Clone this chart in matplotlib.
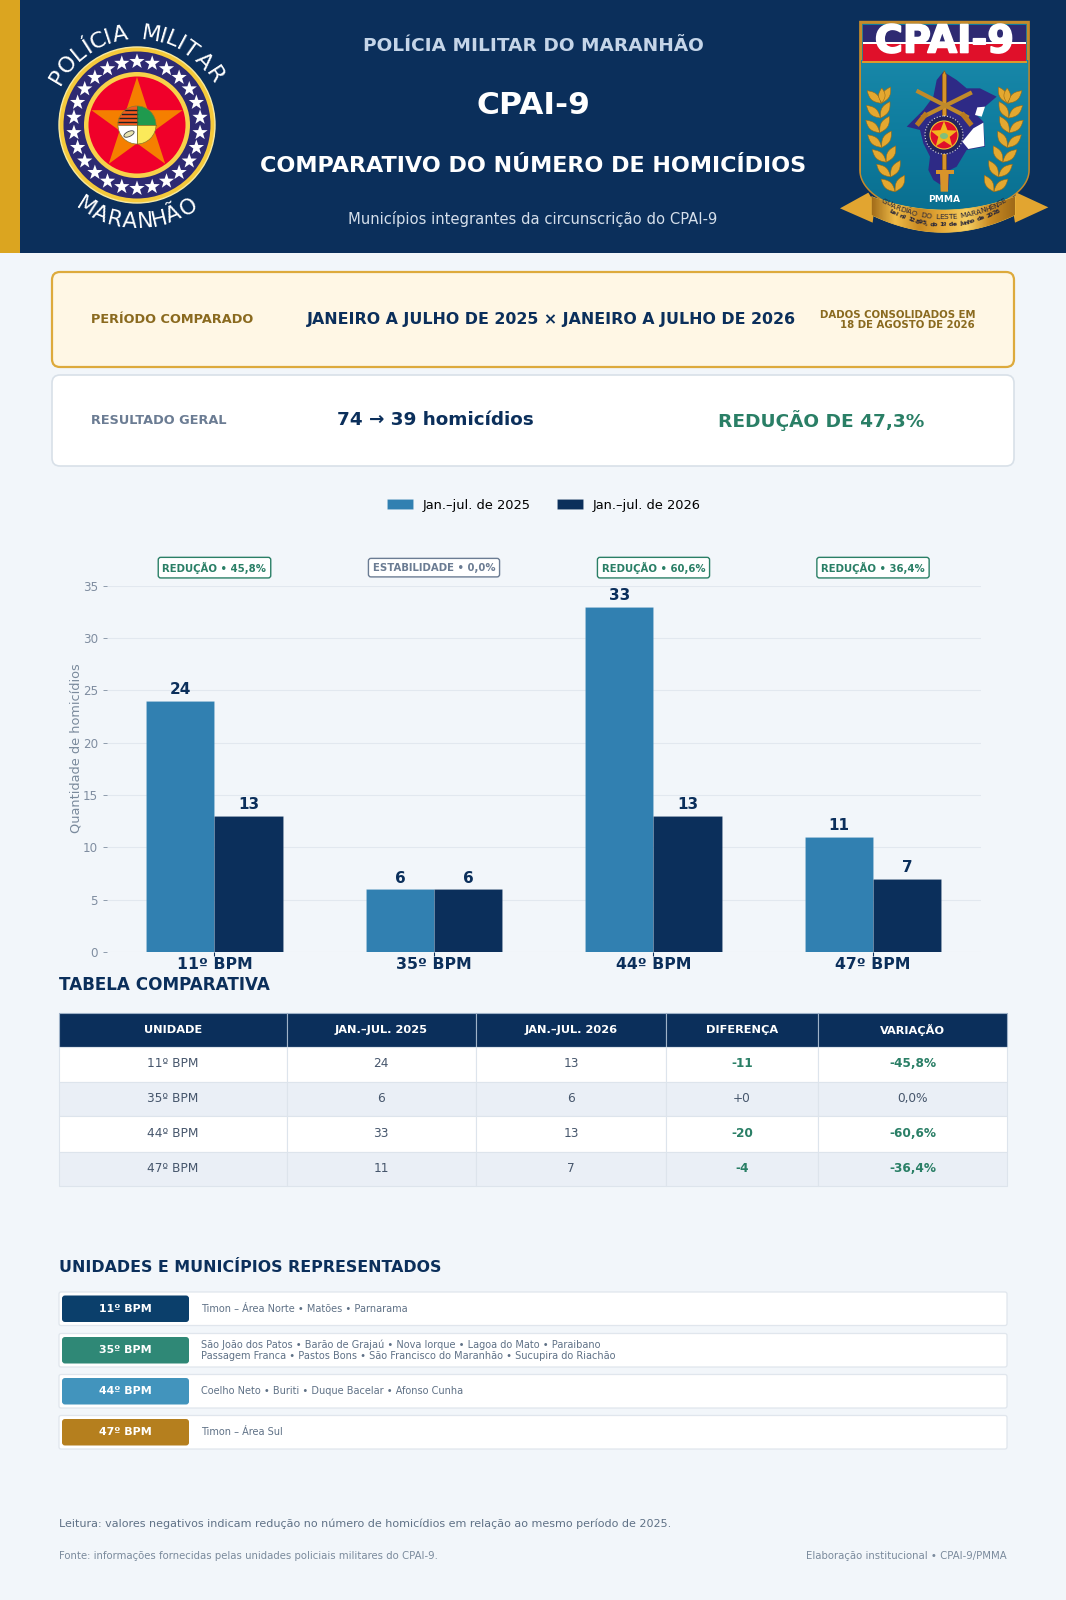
import numpy as np
import matplotlib
matplotlib.use('Agg')
import matplotlib.pyplot as plt
import matplotlib.patheffects as pe
from matplotlib.colors import LinearSegmentedColormap
from matplotlib.patches import Rectangle, FancyBboxPatch, Circle, Polygon, Ellipse, Wedge
from matplotlib.textpath import TextPath
from matplotlib.font_manager import FontProperties

W, H = 1066, 1600
NAVY = '#0B2F5B'
BLUE = '#3180B1'
GREEN = '#2A7F66'
BG = '#F2F6FA'
GOLD = '#DBA520'
SLATE = '#6B7C93'
BODY = '#46566C'

units = ['11º BPM', '35º BPM', '44º BPM', '47º BPM']
values_2025 = [24, 6, 33, 11]
values_2026 = [13, 6, 13, 7]
diffs = ['-11', '+0', '-20', '-4']
variations = ['-45,8%', '0,0%', '-60,6%', '-36,4%']
badges = ['REDUÇÃO • 45,8%', 'ESTABILIDADE • 0,0%', 'REDUÇÃO • 60,6%', 'REDUÇÃO • 36,4%']
table_head = ['UNIDADE', 'JAN.–JUL. 2025', 'JAN.–JUL. 2026', 'DIFERENÇA', 'VARIAÇÃO']
unit_colors = ['#0B3F6B', '#2F8876', '#4294BD', '#B57F1E']
municipalities = [
    'Timon – Área Norte • Matões • Parnarama',
    'São João dos Patos • Barão de Grajaú • Nova Iorque • Lagoa do Mato • Paraibano\n'
    'Passagem Franca • Pastos Bons • São Francisco do Maranhão • Sucupira do Riachão',
    'Coelho Neto • Buriti • Duque Bacelar • Afonso Cunha',
    'Timon – Área Sul',
]

plt.rcParams['font.family'] = 'DejaVu Sans'
fig = plt.figure(figsize=(W / 100, H / 100), dpi=100, facecolor=BG)

# page layer in pixel coordinates, y going down
pg = fig.add_axes([0, 0, 1, 1])
pg.set_xlim(0, W)
pg.set_ylim(H, 0)
pg.axis('off')


def txt(x, y, s, size, color=NAVY, weight='normal', ha='center', **kw):
    return pg.text(x, y, s, fontsize=size, color=color, fontweight=weight,
                   ha=ha, va='center', **kw)


def rbox(x0, y0, x1, y1, fc, ec='none', lw=0, r=8, z=2):
    p = FancyBboxPatch((x0 + r, y0 + r), x1 - x0 - 2 * r, y1 - y0 - 2 * r,
                       boxstyle=f'round,pad={r},rounding_size={r}',
                       fc=fc, ec=ec, lw=lw, zorder=z)
    pg.add_patch(p)


def arc_text(s, cx, cy, rad, a0, a1, size, color, weight='bold', bottom=False, z=6):
    # letter by letter on a baseline circle, a0 and a1 are the centres of the end letters
    fp = FontProperties(family='DejaVu Sans', weight=weight)
    w = [TextPath((0, 0), c if c != ' ' else 'n', size=size, prop=fp).get_extents().width + size * 0.16
         for c in s]
    pos = np.cumsum([0] + [(w[i] + w[i + 1]) / 2 for i in range(len(s) - 1)])
    for c, p in zip(s, pos / pos[-1]):
        a = a0 + (a1 - a0) * p
        x = cx + rad * np.cos(np.radians(a))
        y = cy - rad * np.sin(np.radians(a))
        rot = a + 90 if bottom else a - 90
        pg.text(x, y, c, fontsize=size, color=color, fontweight=weight, ha='center',
                va='baseline', rotation=rot, rotation_mode='anchor', zorder=z)


def star_points(cx, cy, R, r, n=5):
    ang = np.pi / 2 + np.arange(2 * n) * np.pi / n
    rr = np.where(np.arange(2 * n) % 2 == 0, R, r)
    return np.c_[cx + rr * np.cos(ang), cy - rr * np.sin(ang)]


def leaf(px, py, theta, L, wd, z=3.5):
    # lens shape from the stem outwards, theta in degrees from vertical
    s = np.linspace(0, 1, 12)
    th = np.radians(theta)
    ux, uy = np.sin(th), -np.cos(th)
    nx, ny = -uy, ux
    half = wd / 2 * np.sin(s * np.pi)
    a = np.c_[px + ux * L * s + nx * half, py + uy * L * s + ny * half]
    b = np.c_[px + ux * L * s - nx * half, py + uy * L * s - ny * half]
    pg.add_patch(Polygon(np.r_[a, b[::-1]], fc='#E3A830', ec='#9A6A14', lw=0.4, zorder=z))


# header
pg.add_patch(Rectangle((0, 0), W, 253, fc=NAVY, ec='none', zorder=1))
pg.add_patch(Rectangle((0, 0), 20, 253, fc=GOLD, ec='none', zorder=1.5))
txt(533, 46, 'POLÍCIA MILITAR DO MARANHÃO', 13.3, '#C5D5E8', 'bold')
txt(533, 106, 'CPAI-9', 22.6, 'white', 'bold')
txt(533, 166, 'COMPARATIVO DO NÚMERO DE HOMICÍDIOS', 16, 'white', 'bold')
txt(533, 219, 'Municípios integrantes da circunscrição do CPAI-9', 10.6, '#D5DFEB')

# left emblem
cx, cy = 137, 125
pg.add_patch(Circle((cx, cy), 78, fc='#F5C93A', ec='#F8E9A0', lw=1, zorder=3))
pg.add_patch(Circle((cx, cy), 73.5, fc='#2E2A72', ec='none', zorder=3.1))
star_ang = np.arange(26) * 360 / 26 + 90
for a in star_ang:
    sx = cx + 63.5 * np.cos(np.radians(a))
    sy = cy - 63.5 * np.sin(np.radians(a))
    pg.add_patch(Polygon(star_points(sx, sy, 8, 3.2), fc='white', ec='none', zorder=3.2))
pg.add_patch(Circle((cx, cy), 53, fc='#F7D24A', ec='none', zorder=3.3))
pg.add_patch(Circle((cx, cy), 48.5, fc='#F0002A', ec='none', zorder=3.4))
pg.add_patch(Polygon(star_points(cx, cy, 48, 18.3), fc='#F57F00', ec='none', zorder=3.5))
# y axis is flipped here, so wedge angles run clockwise on screen
pg.add_patch(Wedge((cx, cy), 19, 180, 270, fc='#F25A1E', ec='none', zorder=4))
pg.add_patch(Wedge((cx, cy), 19, 270, 360, fc='#1F9A4E', ec='none', zorder=4))
pg.add_patch(Wedge((cx, cy), 19, 90, 180, fc='white', ec='none', zorder=4))
pg.add_patch(Wedge((cx, cy), 19, 0, 90, fc='#FBEA5A', ec='none', zorder=4))
for sy in [cy - 3, cy - 7, cy - 11, cy - 15]:
    half = np.sqrt(19 ** 2 - (cy - sy) ** 2)
    pg.plot([cx - half, cx], [sy, sy], color='#222222', lw=1, zorder=4.1)
pg.plot([cx - 19, cx + 19], [cy, cy], color='#6B5B1E', lw=0.5, zorder=4.2)
pg.plot([cx, cx], [cy - 19, cy + 19], color='#6B5B1E', lw=0.5, zorder=4.2)
pg.add_patch(Circle((cx, cy), 19, fc='none', ec='#8A7A30', lw=0.5, zorder=4.3))
pg.add_patch(Ellipse((cx - 8, cy + 9), 11, 5, angle=-25, fc='#E7E3B0', ec='#444444', lw=0.6, zorder=4.4))
arc_text('POLÍCIA MILITAR', cx, cy, 86, 149, 33, 16, 'white', 'normal')
arc_text('MARANHÃO', cx, cy, 103, 238, 302, 15.5, 'white', 'normal', bottom=True)


def zp(pts):
    a = np.array(pts, dtype=float)
    return np.c_[800 + a[:, 0] / 3, a[:, 1] / 3]


t = np.linspace(0, 1, 30)
q = t * np.pi / 2
shield = np.r_[[[182, 67], [685, 67]],
               np.c_[430 + 255 * np.cos(q), 510 + 130 * np.sin(q)],
               np.c_[430 - 248 * np.sin(q[1:]), 510 + 130 * np.cos(q[1:])]]
outline = Polygon(zp(shield), fc='#0E7C9E', ec='#C68A2A', lw=2.2, zorder=3)
pg.add_patch(outline)
grad = np.linspace(0, 1, 200).reshape(-1, 1)
field_cmap = LinearSegmentedColormap.from_list('field', ['#1887A8', '#0E7C9E', '#0A6F90'])
im = pg.imshow(grad, extent=(861, 1029, 213, 60), cmap=field_cmap, aspect='auto', zorder=3.1)
im.set_clip_path(outline)
pg.add_patch(Rectangle(zp([[189, 74]])[0], 489 / 3, 54 / 3, fc='#2E2A72', ec='none', zorder=3.2))
pg.add_patch(Rectangle(zp([[189, 126]])[0], 489 / 3, 8 / 3, fc='white', ec='none', zorder=3.2))
pg.add_patch(Rectangle(zp([[189, 133]])[0], 489 / 3, 50 / 3, fc='#E0102A', ec='none', zorder=3.2))
pg.add_patch(Rectangle(zp([[187, 183]])[0], 493 / 3, 6 / 3, fc='#D99A2B', ec='none', zorder=3.3))
txt(944.5, 42.5, 'CPAI-9', 27.6, 'white', 'bold', zorder=3.5,
    path_effects=[pe.withStroke(linewidth=1.2, foreground='white')])

state_map = [(430, 215), (470, 240), (500, 265), (540, 265), (590, 290), (555, 320), (530, 345),
             (550, 365), (555, 440), (500, 450), (470, 500), (450, 510), (445, 570), (400, 540),
             (385, 510), (390, 470), (370, 430), (360, 390), (320, 380), (370, 330), (400, 290),
             (410, 240)]
pg.add_patch(Polygon(zp(state_map), fc='#2E2A86', ec='none', zorder=3.4))
for patch_pts in ([(532, 322), (555, 320), (545, 350), (525, 345)],
                  [(520, 385), (550, 368), (553, 438), (505, 447), (487, 425)]):
    pg.add_patch(Polygon(zp(patch_pts), fc='white', ec='none', zorder=3.45))
pg.add_patch(Polygon(zp([(427, 225), (433, 212), (439, 225), (439, 510), (427, 510)]),
                     fc='#D9942A', ec='#8A5A14', lw=0.5, zorder=3.6))
pg.add_patch(Rectangle(zp([(407, 510)])[0], 18, 4, fc='#D9942A', zorder=3.6))
pg.add_patch(Polygon(zp([(420, 520), (446, 520), (444, 575), (422, 575)]), fc='#D9942A', zorder=3.6))
pg.plot(*zp([(355, 275), (500, 350)]).T, color='#C08A2A', lw=3, zorder=3.6)
pg.plot(*zp([(510, 280), (370, 350)]).T, color='#C08A2A', lw=3, zorder=3.6)
pg.plot(*zp([(375, 345), (355, 370)]).T, color='#B87A20', lw=3.6, zorder=3.6)
pg.plot(*zp([(490, 345), (510, 370)]).T, color='#B87A20', lw=3.6, zorder=3.6)
ex, ey = zp([(432, 405)])[0]
pg.add_patch(Circle((ex, ey), 19, fc='#23235F', ec='#DDDDDD', lw=0.8, ls=':', zorder=3.7))
pg.add_patch(Circle((ex, ey), 14, fc='#E0102A', ec='#F2C230', lw=0.8, zorder=3.8))
pg.add_patch(Polygon(star_points(ex, ey, 14, 6), fc='#F2B61E', ec='none', zorder=3.9))
pg.add_patch(Ellipse((ex, ey + 1), 8, 6, fc='#7FBF7A', ec='none', zorder=4))

# laurel branches, leaf pairs along a stem
stem_y = np.linspace(310, 575, 7)
stem_x = np.interp(stem_y, [265, 420, 575], [245, 238, 285])
for side in (-1, 1):
    for zx_, zy_ in zip(stem_x, stem_y):
        lx = 944.5 + side * (433 - zx_) / 3
        leaf(lx, zy_ / 3, side * 48, 19, 7.5)
        leaf(lx, zy_ / 3, -side * 30, 19, 7.5)
    leaf(944.5 + side * (433 - 245) / 3, 103, 0, 15, 6.5)

# ribbon with a gold gradient clipped to its outline
ribbon_cmap = LinearSegmentedColormap.from_list(
    'ribbon', ['#A06A18', '#F0BC48', '#C98A22', '#E8AC3A', '#F6CF62', '#C98A22', '#A06A18'])
ribbon_grad = np.linspace(0, 1, 300).reshape(1, -1)
xr = np.linspace(215, 645, 40)
u2 = ((xr - 430) / 215) ** 2
top = 590 + 40 * (1 - u2)
low = 645 + 52 * (1 - u2)
for tail in ([(120, 625), (205, 578), (225, 610), (218, 668)],
             [(745, 622), (650, 578), (635, 610), (645, 668)]):
    pg.add_patch(Polygon(zp(tail), fc='#E2A530', ec='none', zorder=4.4))
band = Polygon(zp(np.r_[np.c_[xr, top], np.c_[xr[::-1], low[::-1]]]), fc='#C9871F', ec='#F2C54B',
               lw=0.5, zorder=4.5)
pg.add_patch(band)
rim = pg.imshow(ribbon_grad, extent=(871, 1015, 235, 190), cmap=ribbon_cmap, aspect='auto', zorder=4.6)
rim.set_clip_path(band)
pg.set_xlim(0, W)
pg.set_ylim(H, 0)
txt(944, 200, 'PMMA', 6.6, 'white', 'bold', zorder=5)
arc_text('GUARDIÃO DO LESTE MARANHENSE', 944, 94, 125, 241, 299, 5.4, '#26263A', 'normal', bottom=True)
arc_text('Lei nº 12.895, do 1º de junho de 2026', 944, 115, 111.5, 241, 299, 4.5, '#26263A', 'bold', bottom=True)

# period and result cards
rbox(52, 272, 1014, 367, '#FFF7E5', '#DDAA3C', 1.6)
txt(91, 319.5, 'PERÍODO COMPARADO', 9.3, '#8A6A1F', 'bold', ha='left')
txt(551, 319.5, 'JANEIRO A JULHO DE 2025 × JANEIRO A JULHO DE 2026', 11.4, NAVY, 'bold')
pg.text(975, 320, 'DADOS CONSOLIDADOS EM\n18 DE AGOSTO DE 2026', fontsize=7.3, color='#8A6A1F',
        fontweight='bold', ha='right', va='center', linespacing=1.0)
rbox(52, 375, 1014, 466, 'white', '#D8E0E8', 1.2)
txt(91, 420, 'RESULTADO GERAL', 9.3, SLATE, 'bold', ha='left')
txt(435, 420, '74 → 39 homicídios', 13.2, NAVY, 'bold')
txt(821, 421, 'REDUÇÃO DE 47,3%', 13.3, GREEN, 'bold')

# bar chart
ax = fig.add_axes([107 / W, 1 - 952 / H, (981 - 107) / W, (952 - 585.6) / H])
ax.patch.set_alpha(0)
x = np.arange(len(units))
bw = 0.31
edge = dict(edgecolor=(1, 1, 1, 0.1), linewidth=0.8)
b1 = ax.bar(x - bw / 2, values_2025, bw, color=BLUE, label='Jan.–jul. de 2025', zorder=3, **edge)
b2 = ax.bar(x + bw / 2, values_2026, bw, color=NAVY, label='Jan.–jul. de 2026', zorder=3, **edge)
for bars in (b1, b2):
    for b in bars:
        ax.text(b.get_x() + b.get_width() / 2, b.get_height() + 0.35, str(int(b.get_height())),
                ha='center', va='bottom', fontsize=11, fontweight='bold', color=NAVY)
ax.set_xlim(-0.4897, 3.492)
ax.set_ylim(0, 35)
ax.set_yticks(range(0, 36, 5))
ax.set_xticks(x)
ax.set_xticklabels(units, fontsize=11.3, fontweight='bold', color=NAVY)
ax.tick_params(axis='y', labelsize=8.6, labelcolor='#7F8DA0', color='#7F8DA0', length=3, width=0.6)
ax.tick_params(axis='x', length=3, width=0.8, color=NAVY, pad=0.5)
ax.set_ylabel('Quantidade de homicídios', fontsize=9.3, color='#7A8A9C', labelpad=0, y=0.557)
ax.grid(axis='y', color='#E2E8EF', lw=0.8, zorder=0)
ax.set_axisbelow(True)
for s in ax.spines.values():
    s.set_visible(False)
for i, lab in enumerate(badges):
    col = GREEN if lab.startswith('RED') else SLATE
    ax.text(i, 1.049, lab, transform=ax.get_xaxis_transform(), ha='center', va='center',
            fontsize=7.3, fontweight='bold', color=col, clip_on=False,
            bbox=dict(boxstyle='round,pad=0.42,rounding_size=0.25', fc='white', ec=col, lw=1))
fig.legend(handles=[b1, b2], loc='center', bbox_to_anchor=(544 / W, 1 - 505 / H), ncol=2,
           frameon=False, fontsize=9.4, handlelength=2.0, handleheight=0.7, columnspacing=2.0,
           handletextpad=0.75)

# table
txt(59, 985, 'TABELA COMPARATIVA', 12.1, NAVY, 'bold', ha='left')
edges = [59, 286.5, 476, 666, 818, 1007]
row_y = [1013, 1047, 1081.5, 1116, 1151.5, 1186]
for j, head in enumerate(table_head):
    pg.add_patch(Rectangle((edges[j], row_y[0]), edges[j + 1] - edges[j], row_y[1] - row_y[0],
                           fc=NAVY, ec='#9FB2C8', lw=0.8, zorder=2))
    txt((edges[j] + edges[j + 1]) / 2, 1030, head, 8.2, 'white', 'bold', zorder=3)
for i in range(len(units)):
    cells = [units[i], str(values_2025[i]), str(values_2026[i]), diffs[i], variations[i]]
    fc = 'white' if i % 2 == 0 else '#EAEFF6'
    for j, c in enumerate(cells):
        pg.add_patch(Rectangle((edges[j], row_y[i + 1]), edges[j + 1] - edges[j],
                               row_y[i + 2] - row_y[i + 1], fc=fc, ec='#DDE4EC', lw=0.8, zorder=2))
        good = j >= 3 and c.startswith('-')
        txt((edges[j] + edges[j + 1]) / 2, (row_y[i + 1] + row_y[i + 2]) / 2 - 0.5, c, 8.7,
            GREEN if good else BODY, 'bold' if good else 'normal', zorder=3)

# units and municipalities
txt(59, 1267, 'UNIDADES E MUNICÍPIOS REPRESENTADOS', 11.4, NAVY, 'bold', ha='left')
row_top = [1292, 1333.5, 1374.5, 1415.5]
for i in range(len(units)):
    y0 = row_top[i]
    rbox(59, y0, 1007, y0 + 33.5, 'white', '#E0E6ED', 0.9, r=2)
    rbox(62, y0 + 3.5, 189, y0 + 30, unit_colors[i], 'none', 0, r=3, z=3)
    txt(125.5, y0 + 16.8, units[i], 7.9, 'white', 'bold', zorder=4)
    pg.text(201, y0 + 16.5, municipalities[i], fontsize=7.0, color='#5F7186', ha='left',
            va='center', linespacing=1.1, zorder=4)

# footer
txt(59, 1523.5, 'Leitura: valores negativos indicam redução no número de homicídios em relação ao mesmo período de 2025.',
    8.0, '#5F7186', ha='left')
txt(59, 1556, 'Fonte: informações fornecidas pelas unidades policiais militares do CPAI-9.', 7.27, '#7A8A9C', ha='left')
txt(1007, 1556, 'Elaboração institucional • CPAI-9/PMMA', 7.3, '#7A8A9C', ha='right')

fig.savefig('out.png', dpi=100, facecolor=BG)
